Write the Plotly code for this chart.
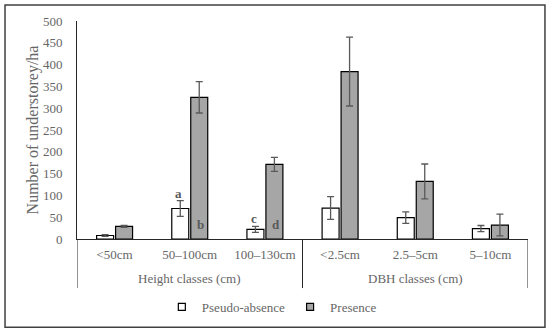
import plotly.graph_objects as go

categories = ["<50cm", "50–100cm", "100–130cm", "<2.5cm", "2.5–5cm", "5–10cm"]
groups = ["Height classes (cm)", "DBH classes (cm)"]
pseudo_absence = [8, 70, 22, 71, 49, 24]
pseudo_absence_err = [2, 18, 7, 26, 13, 7]
presence = [29, 325, 171, 384, 132, 32]
presence_err = [2, 36, 16, 79, 40, 25]
letters_pseudo = ["", "a", "c", "", "", ""]
letters_presence = ["", "b", "d", "", "", ""]
y_ticks = list(range(0, 501, 50))

FONT = "Liberation Serif"
TXT = "#666666"
LETTER = "#595959"

fig = go.Figure()
fig.add_trace(go.Bar(
    x=categories, y=pseudo_absence, name="Pseudo-absence", showlegend=False,
    marker=dict(color="white", line=dict(color="black", width=1.2)),
    error_y=dict(type="data", array=pseudo_absence_err, color="#595959", thickness=1.3, width=3.5),
))
fig.add_trace(go.Bar(
    x=categories, y=presence, name="Presence", showlegend=False,
    marker=dict(color="#a6a6a6", line=dict(color="black", width=1.2)),
    error_y=dict(type="data", array=presence_err, color="#595959", thickness=1.3, width=3.5),
))
# legend entries
fig.add_trace(go.Scatter(x=[None], y=[None], mode="markers", name="Pseudo-absence",
                         marker=dict(symbol="square", size=7, color="white", line=dict(color="black", width=1.2))))
fig.add_trace(go.Scatter(x=[None], y=[None], mode="markers", name="Presence",
                         marker=dict(symbol="square", size=7, color="#a6a6a6", line=dict(color="black", width=1.2))))

# significance letters
for i, c in enumerate(categories):
    if letters_pseudo[i]:
        fig.add_annotation(x=c, y=pseudo_absence[i] + pseudo_absence_err[i], text="<b>%s</b>" % letters_pseudo[i],
                           showarrow=False, xshift=-11, yanchor="bottom", yshift=-2,
                           font=dict(family=FONT, size=13, color=LETTER))
    if letters_presence[i]:
        fig.add_annotation(x=c, y=0, text="<b>%s</b>" % letters_presence[i],
                           showarrow=False, xshift=11, yanchor="bottom", yshift=5,
                           font=dict(family=FONT, size=13, color=LETTER))

# group labels and dividers
n_per_group = 3
for g, name in enumerate(groups):
    mid = g * n_per_group + (n_per_group - 1) / 2
    fig.add_annotation(x=mid, y=-0.183, xref="x", yref="paper", text=name, showarrow=False,
                       yanchor="middle", font=dict(family=FONT, size=13, color=TXT))
for k in range(len(groups) + 1):
    xpos = k * n_per_group - 0.5
    fig.add_shape(type="line", xref="x", yref="paper", x0=xpos, x1=xpos, y0=0, y1=-0.225,
                  line=dict(color="#262626", width=1))

# outer border
fig.add_shape(type="rect", xref="paper", yref="paper", x0=-0.1596, x1=1.0376, y0=-0.405, y1=1.0735,
              line=dict(color="#404040", width=1.5))

fig.update_layout(
    width=550, height=334,
    margin=dict(l=77, r=22, t=21, b=95),
    paper_bgcolor="white", plot_bgcolor="white",
    barmode="group", bargap=0.495, bargroupgap=0.105,
    font=dict(family=FONT, size=13, color=TXT),
    legend=dict(orientation="h", x=0.432, xanchor="center", y=-0.312, yanchor="middle",
                font=dict(family=FONT, size=13, color=TXT), itemwidth=30, tracegroupgap=0,
                bgcolor="rgba(0,0,0,0)"),
    xaxis=dict(type="category", range=[-0.5, 5.5], showline=True, linecolor="#262626", linewidth=1,
               showgrid=False, ticks="", ticklabelstandoff=3, tickfont=dict(family=FONT, size=13, color=TXT)),
    yaxis=dict(range=[0, 500], tickvals=y_ticks, showline=True, linecolor="#262626", linewidth=1,
               showgrid=False, zeroline=False, ticks="", ticklabelstandoff=11,
               tickfont=dict(family=FONT, size=13, color=TXT),
               title=dict(text="Number of understorey/ha", standoff=0, font=dict(family=FONT, size=16, color=TXT))),
)

fig.write_html("out.html", config={"displayModeBar": False},
               post_script="document.body.style.margin='0';document.body.style.padding='0';")
